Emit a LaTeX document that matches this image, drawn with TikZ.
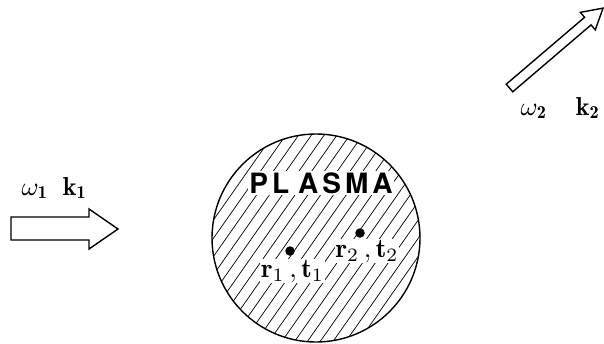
\documentclass[tikz,border=0pt]{standalone}
\usepackage{fontspec}
\usepackage{amsmath}
\usetikzlibrary{calc}
\newfontfamily\plasmafont{TeX Gyre Heros}
\begin{document}
\begin{tikzpicture}[x=1pt,y=-1pt,
  outline/.style={draw=black,line width=1.4pt,line join=miter,fill=white},
  hatchline/.style={line width=0.7pt},
  wavelabel/.style={font=\fontsize{10}{12}\selectfont,inner sep=0.5pt,scale=2.6,transform shape},
  dotmark/.style={circle,fill=black,inner sep=0pt,minimum size=9.5pt},
  poslabel/.style={font=\fontsize{10}{12}\selectfont,fill=white,inner sep=0.4pt,scale=2.7,transform shape}]
\useasboundingbox (0,0) rectangle (604,343);
% plasma
\coordinate (c) at (316,238);
\begin{scope}
  \clip (c) circle (104);
  \foreach \i in {-11,...,11} {
    \draw[hatchline] ($(c)+(\i*12.8,0)+(-80,114)$) -- ($(c)+(\i*12.8,0)+(80,-114)$);
  }
\end{scope}
\draw[line width=1.4pt] (c) circle (104);
\node[fill=white,inner sep=1pt,font=\plasmafont\bfseries\fontsize{28}{30}\selectfont] (plasma) at (321,183)
  {P\hspace{4pt}L\hspace{9pt}A\hspace{4pt}S\hspace{4pt}M\hspace{4pt}A};
\node[dotmark] (p1) at (290,251) {};
\node[dotmark] (p2) at (360,233) {};
\node[poslabel,anchor=base] (rt1) at (292.5,277) {$\mathbf{r}_1\,, \mathbf{t}_1$};
\node[poslabel,anchor=base] (rt2) at (367,257) {$\mathbf{r}_2\,, \mathbf{t}_2$};
% incoming wave
\draw[outline] (11,217) -- (89,217) -- (89,209) -- (118,229) -- (89,249) -- (89,240) -- (11,240) -- cycle;
\node[wavelabel,anchor=base] (w1) at (35,195) {$\omega_{\mathbf 1}$};
\node[wavelabel,anchor=base] (k1) at (75,195) {$\mathbf{k}_{\mathbf 1}$};
% scattered wave
\begin{scope}[shift={(509.5,88)},rotate=40.5]
  \draw[outline] (0,-5) -- (103,-5) -- (103,-11.5) -- (123,0) -- (103,11.5) -- (103,5) -- (0,5) -- cycle;
\end{scope}
\node[wavelabel,anchor=base] (w2) at (534,115) {$\omega_{\mathbf 2}$};
\node[wavelabel,anchor=base] (k2) at (588,115) {$\mathbf{k}_{\mathbf 2}$};
\end{tikzpicture}
\end{document}
